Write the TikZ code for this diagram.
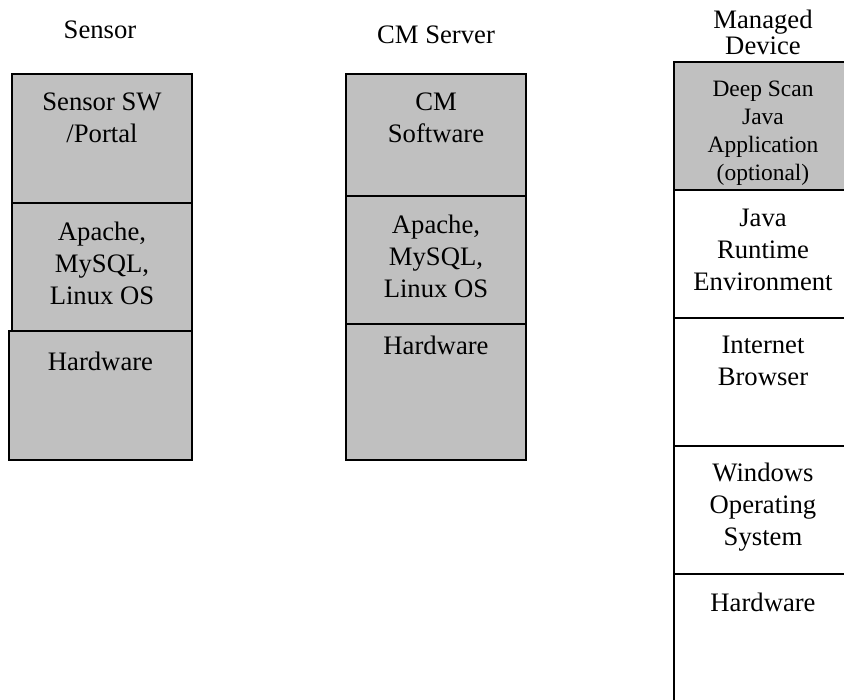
\documentclass[tikz,border=0pt]{standalone}
\usepackage{fontspec}
\setmainfont{Liberation Serif}
\usetikzlibrary{positioning}
\definecolor{boxgray}{HTML}{C0C0C0}

\begin{document}
\begin{tikzpicture}[x=0.75pt, y=-0.75pt, line width=1.2pt,
    layer/.style = {draw, rectangle, inner sep=0pt, outer sep=0pt, minimum width=135pt},
    grayl/.style = {layer, fill=boxgray},
    whitel/.style = {layer, fill=white, minimum width=133.5pt, minimum height=96pt},
    txt/.style = {inner sep=0pt, align=center, anchor=north, font=\fontsize{20}{24}\selectfont},
    small/.style = {txt, font=\fontsize{17.6}{21}\selectfont}]
    \useasboundingbox (0,0) rectangle (844,700);
    % Sensor
    \node[txt] (sensor) at (100,20) {Sensor};
    \node[grayl, minimum height=96.75pt, anchor=north west] (s1) at (12,74) {};
    \node[grayl, minimum height=96pt, below=0pt of s1] (s2) {};
    \node[grayl, minimum height=96.75pt, minimum width=137.25pt, below=0pt of s2.south east, anchor=north east] (s3) {};
    \node[txt, below=13.5pt of s1.north] (s1t) {Sensor SW\\/Portal};
    \node[txt, below=14pt of s2.north] (s2t) {Apache,\\MySQL,\\Linux OS};
    \node[txt, below=15pt of s3.north] (s3t) {Hardware};
    % CM Server
    \node[txt] (cm) at (436,25) {CM Server};
    \node[grayl, minimum height=91.5pt, anchor=north west] (c1) at (346,74) {};
    \node[grayl, minimum height=96pt, below=0pt of c1] (c2) {};
    \node[grayl, minimum height=102pt, below=0pt of c2] (c3) {};
    \node[txt, below=13.5pt of c1.north] (c1t) {CM\\Software};
    \node[txt, below=13.5pt of c2.north] (c2t) {Apache,\\MySQL,\\Linux OS};
    \node[txt, below=8.5pt of c3.north] (c3t) {Hardware};
    % Managed Device
    \node[txt, font=\fontsize{20}{20}\selectfont] (md) at (763,9) {Managed\\Device};
    \node[grayl, minimum width=133.5pt, minimum height=96pt, anchor=north west] (m1) at (674,62) {};
    \node[whitel, below=0pt of m1] (m2) {};
    \node[whitel, below=0pt of m2] (m3) {};
    \node[whitel, below=0pt of m3] (m4) {};
    \node[whitel, minimum height=105pt, below=0pt of m4] (m5) {};
    \node[small, below=13.5pt of m1.north] (m1t) {Deep Scan\\Java\\Application\\(optional)};
    \node[txt, below=13.5pt of m2.north] (m2t) {Java\\Runtime\\Environment};
    \node[txt, below=12.75pt of m3.north] (m3t) {Internet\\Browser};
    \node[txt, below=12pt of m4.north] (m4t) {Windows\\Operating\\System};
    \node[txt, below=13.5pt of m5.north] (m5t) {Hardware};
\end{tikzpicture}
\end{document}
